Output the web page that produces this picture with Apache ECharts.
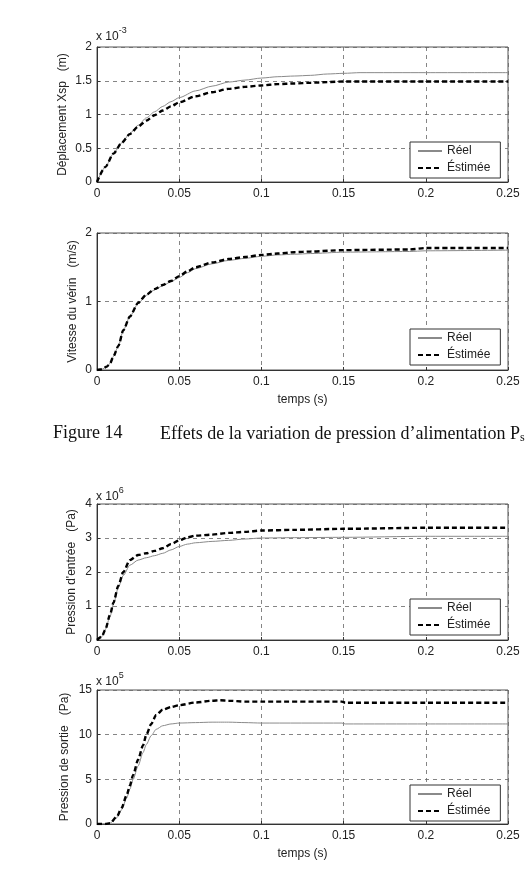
<!DOCTYPE html>
<html lang="fr">
<head>
<meta charset="utf-8" />
<title>Figure 14</title>
<script src="https://cdn.jsdelivr.net/npm/echarts@6/dist/echarts.min.js"></script>
<style>
  html, body { margin: 0; padding: 0; background: #fff; }
  #main { width: 530px; height: 875px; }
</style>
</head>
<body>
<div id="main"></div>
<script>
// temps (s) et valeurs (unites affichees : x10^-3, m/s, x10^6, x10^5)
var t1 = [0, 0.005, 0.01, 0.015, 0.02, 0.025, 0.03, 0.035, 0.04, 0.045, 0.05, 0.06, 0.07, 0.08, 0.09, 0.1, 0.11, 0.12, 0.13, 0.14, 0.15, 0.16, 0.2, 0.25];
var xspReel = [0, 0.22, 0.42, 0.58, 0.72, 0.84, 0.95, 1.04, 1.12, 1.19, 1.25, 1.35, 1.42, 1.48, 1.51, 1.54, 1.56, 1.57, 1.58, 1.60, 1.61, 1.62, 1.62, 1.62];
var xspEst  = [0, 0.22, 0.42, 0.58, 0.71, 0.82, 0.91, 0.99, 1.06, 1.12, 1.18, 1.27, 1.33, 1.38, 1.41, 1.43, 1.45, 1.46, 1.47, 1.48, 1.49, 1.49, 1.49, 1.49];

var t2 = [0, 0.003, 0.006, 0.008, 0.01, 0.013, 0.016, 0.02, 0.025, 0.03, 0.035, 0.04, 0.045, 0.05, 0.055, 0.06, 0.07, 0.08, 0.09, 0.1, 0.11, 0.12, 0.13, 0.15, 0.19, 0.2, 0.25];
var vitReel = [0, 0.01, 0.05, 0.1, 0.2, 0.35, 0.58, 0.78, 0.97, 1.09, 1.17, 1.23, 1.29, 1.35, 1.42, 1.48, 1.55, 1.60, 1.63, 1.66, 1.68, 1.69, 1.70, 1.72, 1.73, 1.74, 1.75];
var vitEst  = [0, 0.01, 0.05, 0.1, 0.2, 0.35, 0.58, 0.78, 0.98, 1.10, 1.18, 1.24, 1.30, 1.37, 1.44, 1.50, 1.57, 1.62, 1.65, 1.68, 1.70, 1.72, 1.73, 1.75, 1.76, 1.78, 1.78];

var t3 = [0, 0.003, 0.005, 0.008, 0.01, 0.013, 0.016, 0.02, 0.025, 0.03, 0.035, 0.04, 0.045, 0.05, 0.055, 0.06, 0.07, 0.08, 0.09, 0.1, 0.12, 0.15, 0.2, 0.25];
var pinReel = [0, 0.1, 0.3, 0.7, 1.05, 1.55, 1.9, 2.2, 2.35, 2.42, 2.48, 2.55, 2.65, 2.75, 2.82, 2.86, 2.9, 2.93, 2.97, 3.0, 3.01, 3.02, 3.05, 3.05];
var pinEst  = [0, 0.1, 0.3, 0.75, 1.1, 1.6, 2.0, 2.35, 2.5, 2.55, 2.62, 2.7, 2.82, 2.93, 3.02, 3.07, 3.1, 3.15, 3.18, 3.22, 3.24, 3.27, 3.3, 3.3];

var t4 = [0, 0.005, 0.008, 0.012, 0.015, 0.018, 0.02, 0.022, 0.025, 0.028, 0.03, 0.033, 0.036, 0.04, 0.045, 0.05, 0.06, 0.07, 0.075, 0.08, 0.09, 0.1, 0.149, 0.151, 0.2, 0.25];
var poutReel = [0, 0, 0.1, 0.7, 1.6, 2.9, 3.9, 5.0, 6.5, 8.0, 8.9, 9.9, 10.6, 11.0, 11.2, 11.3, 11.35, 11.4, 11.4, 11.4, 11.35, 11.3, 11.3, 11.2, 11.2, 11.2];
var poutEst  = [0, 0, 0.1, 0.8, 1.8, 3.2, 4.3, 5.5, 7.2, 8.8, 10.0, 11.2, 12.2, 12.8, 13.1, 13.3, 13.6, 13.8, 13.85, 13.8, 13.7, 13.7, 13.7, 13.57, 13.57, 13.57];

var yNames = ['Déplacement Xsp   (m)', 'Vitesse du vérin   (m/s)', "Pression d'entrée   (Pa)", 'Pression de sortie   (Pa)'];
var yRanges = [[0, 2, 0.5], [0, 2, 1], [0, 4, 1], [0, 15, 5]];
var exponents = ['-3', null, '6', '5'];

function pairs(t, v) { return t.map(function (x, i) { return [x, v[i]]; }); }

var font = 'Liberation Sans, Arial, sans-serif';
var grids = [
  { left: 97, right: 22, top: 47, height: 135 },
  { left: 97, right: 22, top: 233, height: 137 },
  { left: 97, right: 22, top: 504, height: 136 },
  { left: 97, right: 22, top: 690, height: 134 }
];
var nameGaps = [28, 18, 19, 26];
var legendTops = [142, 329, 599, 785];
var expTops = [25, 0, 485, 670];
var seriesData = [
  [pairs(t1, xspReel), pairs(t1, xspEst)],
  [pairs(t2, vitReel), pairs(t2, vitEst)],
  [pairs(t3, pinReel), pairs(t3, pinEst)],
  [pairs(t4, poutReel), pairs(t4, poutEst)]
];

var gridLine = { show: true, lineStyle: { color: '#666', width: 0.8, type: [4, 4] } };

var option = {
  backgroundColor: '#fff',
  animation: false,
  grid: grids.map(function (g) {
    return Object.assign({ show: true, borderColor: '#555', borderWidth: 1, backgroundColor: '#fff' }, g);
  }),
  xAxis: grids.map(function (g, i) {
    return {
      gridIndex: i, type: 'value', min: 0, max: 0.25, interval: 0.05,
      axisLine: { lineStyle: { color: '#333', width: 1 } },
      axisTick: { inside: true, length: 3, lineStyle: { color: '#333' } },
      axisLabel: { color: '#222', fontSize: 12, fontFamily: font, margin: 6 },
      splitLine: gridLine,
      name: (i === 1 || i === 3) ? 'temps (s)' : '',
      nameLocation: 'middle', nameGap: 24, nameMoveOverlap: false,
      nameTextStyle: { color: '#222', fontSize: 12, fontFamily: font }
    };
  }),
  yAxis: grids.map(function (g, i) {
    return {
      gridIndex: i, type: 'value', min: yRanges[i][0], max: yRanges[i][1], interval: yRanges[i][2],
      axisLine: { lineStyle: { color: '#333', width: 1 } },
      axisTick: { inside: true, length: 3, lineStyle: { color: '#333' } },
      axisLabel: { color: '#222', fontSize: 12, fontFamily: font, margin: 5 },
      splitLine: gridLine,
      name: yNames[i], nameLocation: 'middle', nameGap: nameGaps[i], nameRotate: 90, nameMoveOverlap: false,
      nameTextStyle: { color: '#222', fontSize: 12, fontFamily: font }
    };
  }),
  legend: legendTops.map(function (top) {
    return {
      left: 410, top: top, orient: 'vertical',
      data: ['Réel', 'Éstimée'],
      backgroundColor: '#fff', borderColor: '#333', borderWidth: 1, borderRadius: 0,
      padding: [3, 10, 4, 7], itemWidth: 24, itemHeight: 10, itemGap: 5,
      itemStyle: { opacity: 0 },
      textStyle: { color: '#222', fontSize: 12, fontFamily: font },
      selectedMode: false
    };
  }),
  title: [{
    text: 'Figure 14', left: 53, top: 424, padding: 0,
    textStyle: { fontFamily: 'Liberation Serif, Times New Roman, serif', fontSize: 18, fontWeight: 'normal', color: '#111' }
  }, {
    text: 'Effets de la variation de pression d’alimentation P{s|s}', left: 160, top: 424, padding: 0,
    textStyle: {
      fontFamily: 'Liberation Serif, Times New Roman, serif', fontSize: 18, fontWeight: 'normal', color: '#111',
      rich: { s: { fontFamily: 'Liberation Serif, serif', fontSize: 12, color: '#111', verticalAlign: 'bottom', padding: [8, 0, 0, 0] } }
    }
  }].concat(exponents.map(function (e, i) {
    if (!e) return { show: false };
    return {
      text: '{a|x 10}{b|' + e + '}', left: 96, top: expTops[i], padding: 0,
      textStyle: {
        fontWeight: 'normal',
        rich: {
          a: { fontFamily: font, fontSize: 12, fontWeight: 'normal', color: '#222', padding: [6, 0, 0, 0] },
          b: { fontFamily: font, fontSize: 9, fontWeight: 'normal', color: '#222', padding: [0, 0, 6, 0] }
        }
      }
    };
  })),
  series: []
};

seriesData.forEach(function (d, i) {
  option.series.push({
    name: 'Réel', type: 'line', xAxisIndex: i, yAxisIndex: i, data: d[0],
    showSymbol: false, symbol: 'none', smooth: 0.25, smoothMonotone: 'x',
    lineStyle: { color: '#8a8a8a', width: 1 }, itemStyle: { color: '#8a8a8a' }, z: 3
  });
  option.series.push({
    name: 'Éstimée', type: 'line', xAxisIndex: i, yAxisIndex: i, data: d[1],
    showSymbol: false, symbol: 'none', smooth: 0.25, smoothMonotone: 'x',
    lineStyle: { color: '#000', width: 2.4, type: [5, 3] }, itemStyle: { color: '#000' }, z: 4
  });
});

var chart = echarts.init(document.getElementById('main'));
chart.setOption(option);
window.onresize = function () { chart.resize(); };
</script>
</body>
</html>
